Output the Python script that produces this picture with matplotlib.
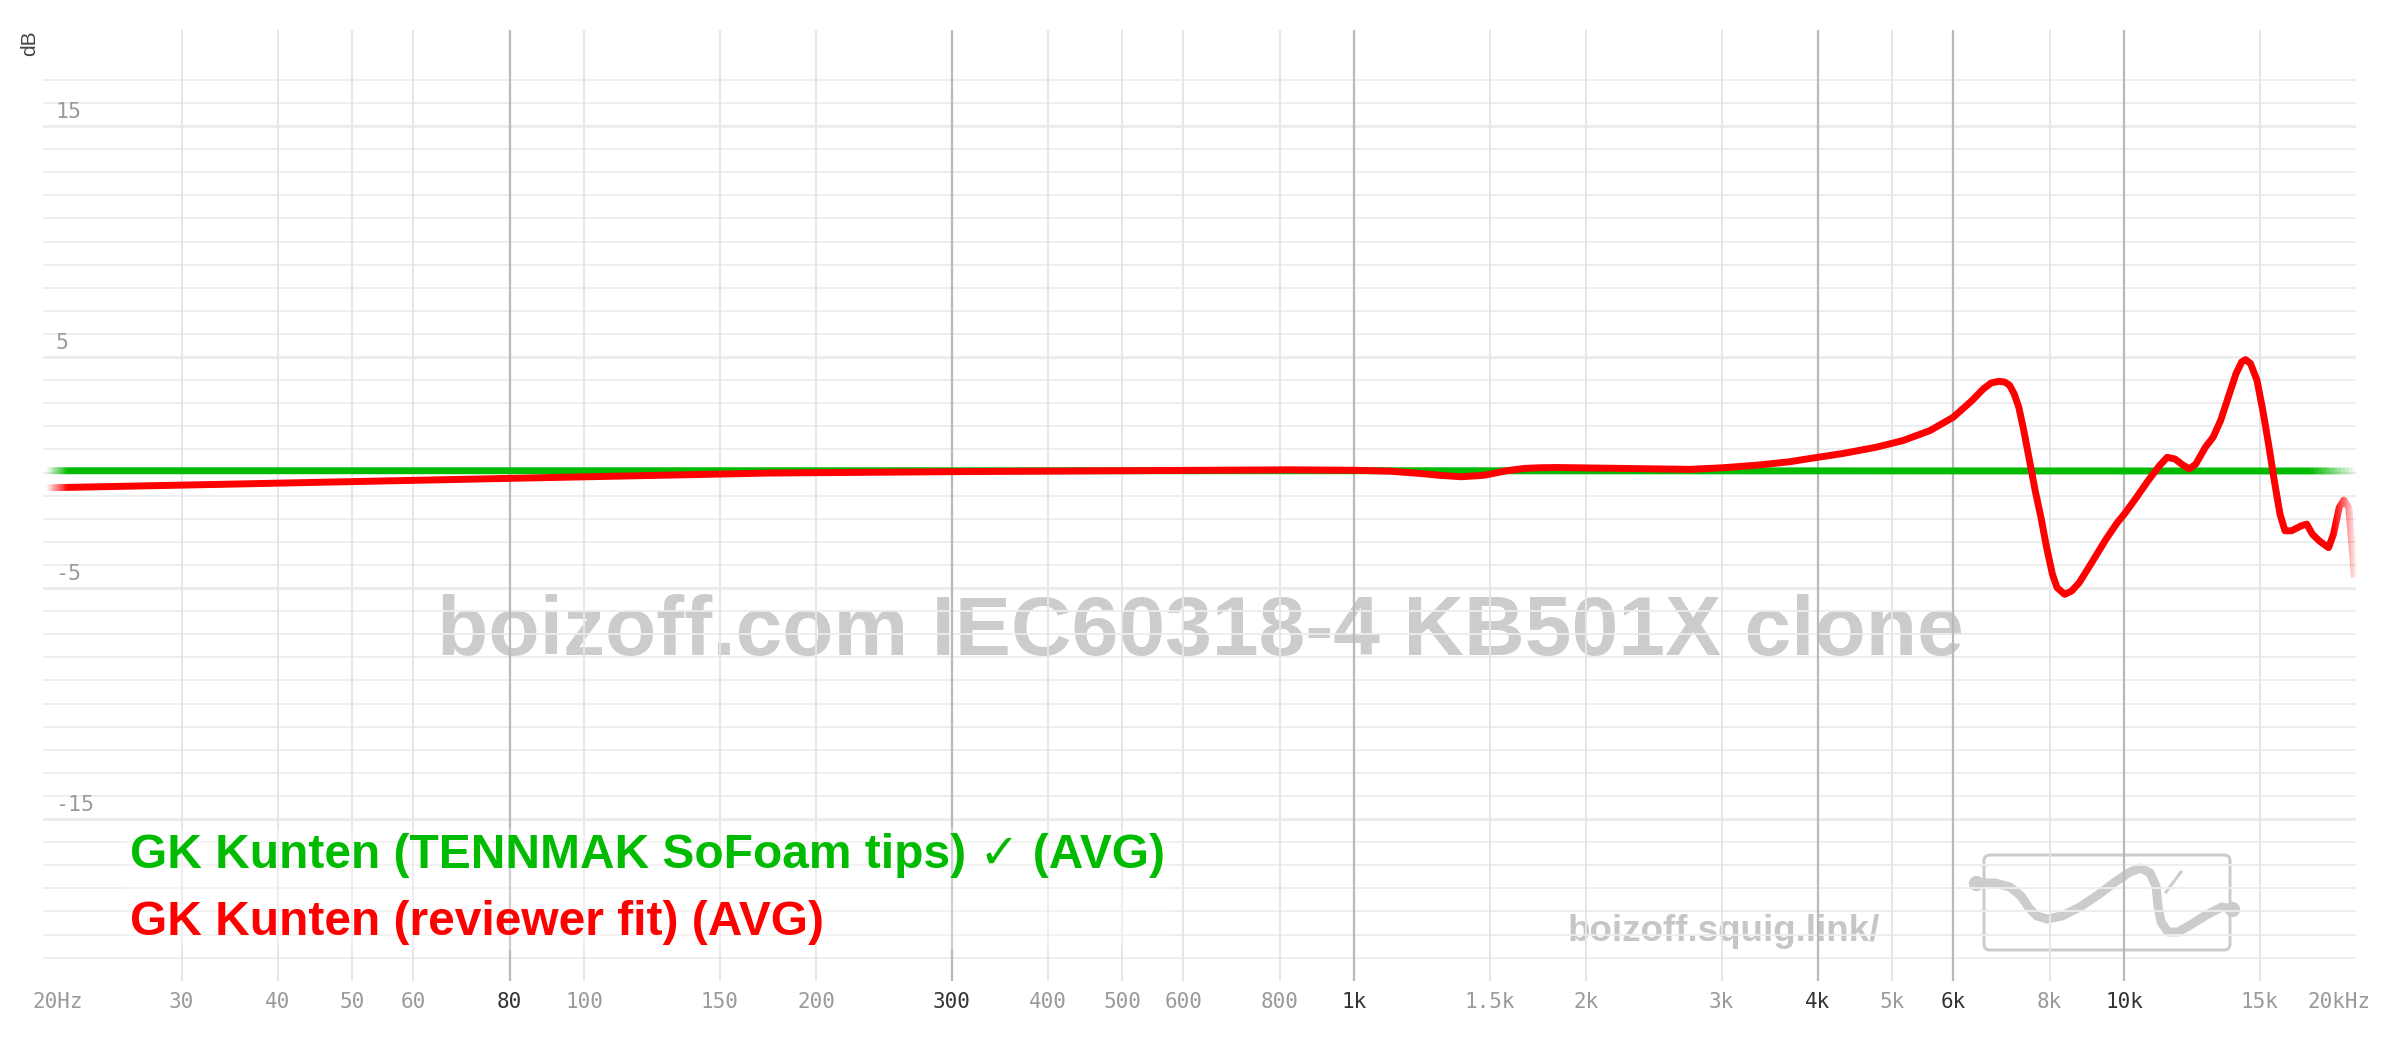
import matplotlib
matplotlib.use('Agg')
import matplotlib.pyplot as plt
from matplotlib.patches import Rectangle, FancyBboxPatch
from matplotlib.transforms import Affine2D, ScaledTranslation, blended_transform_factory

W, H, DPI = 2400, 1038, 100

# curves (Hz, dB)
green_freq = [20, 100, 1000, 10000, 20000]
green_db = [0.08, 0.08, 0.08, 0.07, 0.07]

red_freq = [20, 33.6, 80, 174, 300, 826, 1000, 1114, 1230, 1292, 1377, 1472, 1578, 1662,
            1743, 1832, 2236, 2730, 3016, 3333, 3680, 3908, 4300, 4768, 5165, 5596, 6000,
            6344, 6566, 6718, 6876, 6994, 7098, 7196, 7296, 7406, 7534, 7664, 7796,
            7930, 8068, 8180, 8368, 8542, 8740, 9046, 9468, 9798, 10002, 10376,
            10740, 11114, 11370, 11634, 11904, 12150, 12388, 12748, 13044, 13344,
            13652, 13970, 14210, 14374, 14590, 14876, 15136, 15396, 15664, 15934,
            16174, 16490, 16968, 17260, 17558, 17924, 18424, 18698, 19024, 19288,
            19574, 19912]
red_db = [-0.66, -0.51, -0.25, -0.02, 0.04, 0.12, 0.10, 0.06, -0.05, -0.12, -0.18, -0.12, 0.08, 0.18,
          0.21, 0.22, 0.18, 0.14, 0.21, 0.32, 0.47, 0.61, 0.82, 1.10, 1.39, 1.82, 2.40,
          3.12, 3.63, 3.88, 3.95, 3.92, 3.78, 3.41, 2.83, 1.82, 0.52, -0.79, -1.94,
          -3.25, -4.40, -4.98, -5.27, -5.13, -4.77, -3.97, -2.89, -2.16, -1.80, -1.07,
          -0.35, 0.30, 0.66, 0.59, 0.34, 0.16, 0.37, 1.10, 1.53, 2.26,
          3.27, 4.28, 4.79, 4.89, 4.72, 3.99, 2.69, 1.24, -0.35, -1.80,
          -2.52, -2.52, -2.31, -2.23, -2.67, -2.96, -3.25, -2.67, -1.51, -1.19,
          -1.51, -4.55]

xtick_freq = [20, 30, 40, 50, 60, 80, 100, 150, 200, 300, 400, 500, 600, 800,
              1000, 1500, 2000, 3000, 4000, 5000, 6000, 8000, 10000, 15000, 20000]
xtick_text = ['20Hz', '30', '40', '50', '60', '80', '100', '150', '200', '300',
              '400', '500', '600', '800', '1k', '1.5k', '2k', '3k', '4k', '5k',
              '6k', '8k', '10k', '15k', '20kHz']
xtick_dark = [80, 300, 1000, 4000, 6000, 10000]
ytick_db = [15, 5, -5, -15]
ygrid_db = list(range(-21, 18))

green_label = 'GK Kunten (TENNMAK SoFoam tips) \u2713 (AVG)'
red_label = 'GK Kunten (reviewer fit) (AVG)'
watermark = 'boizoff.com IEC60318-4 KB501X clone'
site = 'boizoff.squig.link/'

GREEN = '#00bb00'
RED = '#ff0000'
SANS = ['Liberation Sans', 'DejaVu Sans']
MONO = 'DejaVu Sans Mono'

fig = plt.figure(figsize=(W / DPI, H / DPI), dpi=DPI)
fig.patch.set_facecolor('white')
# pixel coords of the reference image, origin top left
px = Affine2D().scale(1 / W, -1 / H).translate(0, 1) + fig.transFigure

ax = fig.add_axes([43 / W, 1 - 981 / H, 2313 / W, 951 / H])
ax.set_xscale('log')
ax.set_xlim(19.82, 20000)
ax.set_ylim(-22.01, 19.16)
for s in ax.spines.values():
    s.set_visible(False)
ax.set_xticks([])
ax.set_yticks([])
ax.minorticks_off()

# grid
for v in ygrid_db:
    thick = v in ytick_db
    ax.axhline(v, color='#ededed', lw=2.2 if thick else 1.3, zorder=1)
for f in xtick_freq[1:-1]:
    dark = f in xtick_dark
    ax.axvline(f, color='#b9b9b9' if dark else '#e6e6e6', lw=1.6 if dark else 1.4,
               zorder=1.1 if dark else 1)

# axis labels
xlab_tr = blended_transform_factory(ax.transData, ax.transAxes)
for f, t in zip(xtick_freq, xtick_text):
    dx = {20: 12, 20000: -17}.get(f, 0)
    off = ScaledTranslation(dx / DPI, -21 / DPI, fig.dpi_scale_trans)
    ax.text(f, 0, t, transform=xlab_tr + off, ha='center', va='center',
            fontsize=15, family=MONO, color='#333333' if f in xtick_dark else '#9a9a9a')

ylab_tr = blended_transform_factory(ax.transAxes, ax.transData) + \
    ScaledTranslation(0, 14 / DPI, fig.dpi_scale_trans)
for v in ytick_db:
    ax.text(12 / 2313, v, str(v), transform=ylab_tr, ha='left', va='center',
            fontsize=15.5, family=MONO, color='#9a9a9a')

fig.text(30 / W, 1 - 43 / H, 'dB', rotation=90, ha='center', va='center',
         fontsize=15, color='#444444', family=SANS)

# watermarks and logo (under the grid)
ax.text(1200, 655, watermark, transform=px, ha='center', va='baseline', fontsize=60.5,
        fontweight='bold', color='#cccccc', family=SANS, zorder=0.5)
ax.text(1568, 941, site, transform=px, ha='left', va='baseline', fontsize=26.5,
        fontweight='bold', color='#c6c6c6', family=SANS, zorder=0.5)
ax.add_patch(FancyBboxPatch((1984, 855), 246, 95, boxstyle='round,pad=0,rounding_size=6',
                            transform=px, fill=False, edgecolor='#cccccc', lw=2.2, zorder=0.5))
sq_x = [1976, 1995, 2010, 2021, 2029, 2037, 2047, 2062, 2080, 2098, 2115, 2130, 2141,
        2150, 2156, 2158, 2161, 2168, 2178, 2192, 2208, 2222, 2232]
sq_y = [883, 883, 887, 896, 908, 916, 919, 916, 907, 895, 882, 872, 868,
        873, 886, 906, 922, 932, 932, 924, 914, 907, 909]
ax.plot(sq_x, sq_y, transform=px, color='#cccccc', lw=6.5, solid_capstyle='round',
        solid_joinstyle='round', zorder=0.5)
ax.plot([sq_x[0], sq_x[-1]], [sq_y[0], sq_y[-1]], 'o', transform=px, color='#cccccc',
        ms=10, zorder=0.5)
ax.plot([2181, 2166], [872, 892], transform=px, color='#cccccc', lw=2.2, zorder=0.5)


def faded_plot(freq, db, color, fade_left, fade_right, n=12):
    # stroke fades in/out over the given pixel ranges, like the squig.link graph
    def draw(a, b, alpha):
        line, = ax.plot(freq, db, color=color, lw=5.0, alpha=alpha, zorder=3,
                        solid_capstyle='butt', solid_joinstyle='round')
        line.set_clip_path(Rectangle(((a - 43) / 2313, 0), (b - a) / 2313, 1,
                                     transform=ax.transAxes))
    draw(fade_left[1], fade_right[0], 1)
    for (a, b), up in ((fade_left, True), (fade_right, False)):
        step = (b - a) / n
        for k in range(n):
            t = (k + 0.5) / n
            draw(a + k * step, a + (k + 1) * step, t if up else 1 - t)


faded_plot(green_freq, green_db, GREEN, (46, 68), (2310, 2357))
faded_plot(red_freq, red_db, RED, (46, 68), (2334, 2357))

# legend
ax.add_patch(Rectangle((123, 828), 1050, 122, transform=px, facecolor='white',
                       alpha=0.3, edgecolor='none', zorder=2))
ax.text(130, 868, green_label, transform=px, ha='left', va='baseline', fontsize=34.5,
        fontweight='bold', color=GREEN, family=SANS, zorder=4)
ax.text(130, 935, red_label, transform=px, ha='left', va='baseline', fontsize=34.5,
        fontweight='bold', color=RED, family=SANS, zorder=4)

fig.savefig('out.png', dpi=DPI, facecolor='white')
